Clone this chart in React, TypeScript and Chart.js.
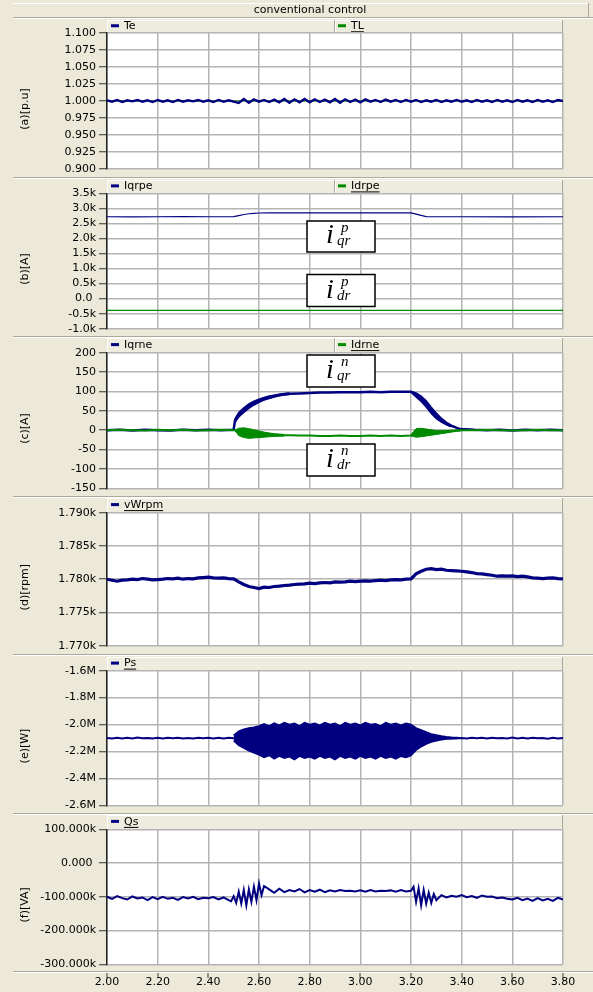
import React, { useEffect, useRef } from 'react';
import { Chart, registerables } from 'chart.js';
Chart.register(...registerables);

const FONT = "'DejaVu Sans', Verdana, sans-serif";
const BG = '#ECE9D8';
const NAVY = '#000080';
const GREEN = '#008A00';
const GRID = '#B4B4B4';
const EDGE = '#ACA899';

// ---------------- data ----------------
const t02 = [2.00,2.02,2.04,2.06,2.08,2.10,2.12,2.14,2.16,2.18,2.20,2.22,2.24,2.26,2.28,2.30,2.32,2.34,2.36,2.38,2.40,2.42,2.44,2.46,2.48,2.50,2.52,2.54,2.56,2.58,2.60,2.62,2.64,2.66,2.68,2.70,2.72,2.74,2.76,2.78,2.80,2.82,2.84,2.86,2.88,2.90,2.92,2.94,2.96,2.98,3.00,3.02,3.04,3.06,3.08,3.10,3.12,3.14,3.16,3.18,3.20,3.22,3.24,3.26,3.28,3.30,3.32,3.34,3.36,3.38,3.40,3.42,3.44,3.46,3.48,3.50,3.52,3.54,3.56,3.58,3.60,3.62,3.64,3.66,3.68,3.70,3.72,3.74,3.76,3.78,3.80];

const teValues = [1.001,0.999,1.0015,0.9985,1.001,0.9995,1.0015,0.999,1.001,0.9985,
1.0015,0.999,1.001,0.9985,1.0015,0.999,1.001,0.9995,1.0015,0.999,
1.001,0.9985,1.0015,0.999,1.001,0.999,0.997,1.003,0.9975,1.0025,
0.999,1.0015,0.9985,1.002,0.998,1.003,0.9975,1.0025,0.998,1.003,
0.998,1.0025,0.9985,1.002,0.998,1.003,0.9975,1.0025,0.9985,1.002,
0.998,1.0025,0.999,1.0015,0.9985,1.002,0.999,1.0015,0.9985,1.0015,
0.999,1.0015,0.9985,1.001,0.999,1.0015,0.9985,1.001,0.999,1.0015,
0.999,1.001,0.9985,1.0015,0.999,1.001,0.9985,1.0015,0.999,1.001,
0.9985,1.0015,0.999,1.001,0.9985,1.0015,0.999,1.001,0.9985,1.0015,1.000];

const tlTimes = [2.00, 3.80];
const tlValues = [1.000, 1.000];

const iqrpeTimes = [2.00,2.10,2.20,2.30,2.40,2.48,2.50,2.52,2.54,2.56,2.58,2.60,2.64,2.80,3.00,3.20,3.22,3.24,3.26,3.28,3.40,3.60,3.80];
const iqrpeValues = [2720,2718,2720,2722,2720,2721,2725,2760,2795,2820,2835,2845,2850,2852,2850,2850,2810,2765,2728,2720,2720,2719,2720];

const idrpeTimes = [2.00, 2.50, 3.00, 3.80];
const idrpeValues = [-390, -388, -390, -390];

const rotorTimes = [2.00,2.05,2.10,2.15,2.20,2.25,2.30,2.35,2.40,2.45,2.50,2.505,
2.51,2.52,2.53,2.54,2.55,2.56,2.57,2.58,2.59,2.60,2.61,2.62,2.63,2.64,2.65,2.66,2.67,2.68,2.69,2.70,
2.72,2.76,2.80,2.84,2.88,2.92,2.96,3.00,3.04,3.08,3.12,3.16,3.20,
3.21,3.22,3.23,3.24,3.25,3.26,3.27,3.28,3.29,3.30,3.31,3.32,3.33,3.34,3.35,3.36,3.37,3.38,3.39,3.40,
3.45,3.50,3.55,3.60,3.65,3.70,3.75,3.80];
const iqrneValues = [0,1,-1,1,0,-1,1,0,1,0,1,24,
32,40,46,52,57,62,66,70,73,76,78.5,81,83,85,86.5,88,89.5,91,92,93,
94,95,96,97,97,98,98,98,99,98,99,99,99,
96,91,86,81,76,68,60,51,43,37,31,26,21,17,13,11,9,6,4,3,
1,0,1,-1,1,0,1,0];
const idrneValues = [0,1,0,-1,1,0,1,-1,0,1,0,0,
-3,-5,-6,-7,-8,-8.5,-9,-9.5,-10,-10.5,-11,-11.5,-12,-12,-12.5,-12.5,-13,-13,-13,-13,
-13,-14,-14,-15,-15,-14,-15,-15,-14,-15,-14,-15,-14,
-7,-7,-6,-6,-6,-6,-6,-6,-6,-6,-5,-5,-4,-4,-3,-2,-2,-1,-1,0,
0,1,0,-1,0,1,0,0];

// thick-band envelopes (upper / lower edges)
const iqrneRiseTimes = [2.505,2.52,2.54,2.56,2.58,2.60,2.62,2.64,2.66,2.68,2.70,2.72];
const iqrneRiseUpper = [28,46,58,68,75,80,84.5,88,90.5,93,95,96];
const iqrneRiseLower = [20,34,46,56,65,72,77.5,82,85.5,89,91,92];
const iqrneFallTimes = [3.20,3.22,3.24,3.26,3.28,3.30,3.32,3.34,3.36];
const iqrneFallUpper = [100,96,88,76,59,44,31,20,13];
const iqrneFallLower = [98,86,74,60,43,30,21,14,9];
const idrneBurst1Times = [2.505,2.52,2.54,2.56,2.58,2.60,2.62,2.64,2.66,2.68,2.70];
const idrneBurst1Upper = [0,5,6,4,1,-2,-5,-7,-9,-10,-11];
const idrneBurst1Lower = [0,-14,-19,-21,-20,-19,-18,-17,-16,-15.5,-15];
const idrneBurst2Times = [3.20,3.22,3.24,3.26,3.28,3.30,3.32,3.34,3.36,3.38,3.40];
const idrneBurst2Upper = [-12,4,5,3,1,-1,-1,-1,0,0,0];
const idrneBurst2Lower = [-15,-18,-17,-15,-13,-11,-9,-7,-5,-3,-1];

const wrpmValues = [1780.0,1779.85,1779.7,1779.85,1779.9,1780.0,1779.95,1780.1,1780.0,1779.9,
1779.95,1780.0,1780.1,1780.05,1780.15,1780.0,1780.1,1780.05,1780.2,1780.25,
1780.3,1780.2,1780.15,1780.2,1780.1,1780.05,1779.6,1779.2,1778.9,1778.75,
1778.6,1778.8,1778.75,1778.9,1778.95,1779.05,1779.1,1779.2,1779.25,1779.3,
1779.4,1779.35,1779.45,1779.5,1779.45,1779.6,1779.55,1779.6,1779.7,1779.65,
1779.7,1779.75,1779.7,1779.8,1779.85,1779.8,1779.9,1779.95,1779.9,1780.0,
1780.05,1780.8,1781.2,1781.5,1781.6,1781.45,1781.5,1781.35,1781.3,1781.25,
1781.2,1781.1,1781.0,1780.85,1780.8,1780.7,1780.6,1780.45,1780.5,1780.45,
1780.5,1780.4,1780.45,1780.35,1780.2,1780.15,1780.1,1780.15,1780.2,1780.1,1780.05];

const psTimes = [2.00,2.02,2.04,2.06,2.08,2.10,2.12,2.14,2.16,2.18,2.20,2.22,2.24,2.26,2.28,2.30,2.32,2.34,2.36,2.38,2.40,2.42,2.44,2.46,2.48,2.50,
3.40,3.42,3.44,3.46,3.48,3.50,3.52,3.54,3.56,3.58,3.60,3.62,3.64,3.66,3.68,3.70,3.72,3.74,3.76,3.78,3.80];
const psValues = [-2.100,-2.104,-2.098,-2.103,-2.099,-2.104,-2.097,-2.102,-2.100,-2.104,-2.098,-2.103,-2.099,-2.102,-2.098,-2.104,-2.100,-2.103,-2.098,-2.102,-2.099,-2.104,-2.098,-2.103,-2.099,-2.101,
-2.100,-2.103,-2.098,-2.102,-2.099,-2.104,-2.098,-2.102,-2.100,-2.104,-2.097,-2.103,-2.099,-2.104,-2.098,-2.102,-2.100,-2.105,-2.098,-2.103,-2.100];

const psBandTimes = [2.50,2.52,2.54,2.56,2.58,2.60,2.62,2.64,2.66,2.68,2.70,2.72,2.74,2.76,2.78,2.80,2.82,2.84,2.86,2.88,2.90,2.92,2.94,2.96,2.98,3.00,3.02,3.04,3.06,3.08,3.10,3.12,3.14,3.16,3.18,3.20,3.22,3.24,3.26,3.28,3.30,3.32,3.34,3.36,3.38,3.40];
const psUpper = [-2.08,-2.05,-2.035,-2.025,-2.02,-2.01,
-1.995,-2.01,-1.99,-2.005,-1.985,-2.0,-1.99,-2.01,-1.985,-2.0,-1.99,-2.005,-1.985,-2.0,-1.99,-2.01,-1.985,-2.0,-1.99,-2.005,-1.985,-2.0,-1.995,-2.01,-1.985,-2.0,-1.99,-2.005,-1.99,
-2.0,-2.025,-2.04,-2.055,-2.07,-2.078,-2.085,-2.09,-2.094,-2.097,-2.1];
const psLower = [-2.12,-2.155,-2.175,-2.195,-2.21,-2.225,
-2.245,-2.23,-2.255,-2.235,-2.25,-2.24,-2.26,-2.235,-2.25,-2.24,-2.255,-2.235,-2.25,-2.24,-2.26,-2.235,-2.25,-2.24,-2.255,-2.235,-2.25,-2.24,-2.255,-2.235,-2.25,-2.24,-2.255,-2.235,-2.245,
-2.23,-2.19,-2.165,-2.145,-2.13,-2.12,-2.113,-2.108,-2.105,-2.103,-2.1];

const qsTimes = [2.00,2.02,2.04,2.06,2.08,2.10,2.12,2.14,2.16,2.18,2.20,2.22,2.24,2.26,2.28,2.30,2.32,2.34,2.36,2.38,2.40,2.42,2.44,2.46,2.48,
2.49,
2.50,2.51,2.52,2.53,2.54,2.55,2.56,2.57,2.58,2.59,2.60,2.61,2.62,
2.64,2.66,2.68,2.70,2.72,2.74,2.76,2.78,2.80,2.82,2.84,2.86,2.88,2.90,2.92,2.94,2.96,2.98,3.00,3.02,3.04,3.06,3.08,3.10,3.12,3.14,3.16,3.18,3.20,
3.21,3.22,3.23,3.24,3.25,3.26,3.27,3.28,3.29,3.30,
3.32,3.34,3.36,3.38,3.40,3.42,3.44,3.46,3.48,3.50,3.52,3.54,3.56,3.58,3.60,3.62,3.64,3.66,3.68,3.70,3.72,3.74,3.76,3.78,3.80];
const qsValues = [-100,-106,-98,-104,-108,-99,-105,-102,-110,-101,-107,-100,-106,-103,-109,-101,-105,-100,-107,-103,-104,-101,-108,-102,-110,
-113,
-98,-118,-85,-120,-80,-125,-78,-115,-70,-110,-60,-95,-68,
-78,-88,-76,-86,-80,-84,-77,-87,-80,-85,-79,-86,-81,-84,-80,-83,-82,-84,-81,-85,-80,-84,-82,-83,-81,-85,-80,-84,-82,
-70,-115,-75,-125,-80,-120,-88,-118,-92,-110,
-95,-102,-97,-100,-95,-101,-98,-103,-96,-100,-99,-104,-102,-106,-108,-103,-110,-105,-112,-104,-111,-106,-112,-103,-108];

const xTickValues = [2.0, 2.2, 2.4, 2.6, 2.8, 3.0, 3.2, 3.4, 3.6, 3.8];

// ---------------- helpers ----------------
const xy = (xs: number[], ys: number[]) => xs.map((x, i) => ({ x, y: ys[i] }));
const line = (label: string, xs: number[], ys: number[], color: string, width: number, extra: any = {}) => ({
  label, data: xy(xs, ys), borderColor: color, backgroundColor: color, borderWidth: width,
  pointRadius: 0, tension: 0, fill: false, ...extra,
});
const band = (label: string, xs: number[], up: number[], lo: number[], color: string, width: number) => [
  line(label + ' upper', xs, up, color, width),
  line(label + ' lower', xs, lo, color, width, { fill: '-1', backgroundColor: color }),
];

function groove(ctx: CanvasRenderingContext2D, x1: number, x2: number, y: number) {
  ctx.fillStyle = EDGE;
  ctx.fillRect(x1, Math.round(y), x2 - x1, 1);
  ctx.fillStyle = '#FFFFFF';
  ctx.fillRect(x1, Math.round(y) + 1, x2 - x1, 1);
}

const decorPlugin = {
  id: 'decor',
  beforeDraw(chart: any, _a: any, o: any) {
    const { ctx, chartArea: a } = chart;
    ctx.save();
    ctx.fillStyle = '#FFFFFF';
    ctx.fillRect(a.left, a.top, a.right - a.left, a.bottom - a.top);
    if (o.first) {
      ctx.fillStyle = '#FFFFFF';
      ctx.fillRect(13, 3, 575, 1);
      ctx.fillStyle = EDGE;
      ctx.fillRect(588, 3, 1, 14);
      ctx.fillStyle = '#000';
      ctx.font = `11px ${FONT}`;
      ctx.textAlign = 'center';
      ctx.textBaseline = 'middle';
      ctx.fillText(o.title, 310, 10.5);
    }
    groove(ctx, 13, 593, o.sepY);
    // legend strip
    const lt = o.legendTop, lb = a.top - 0.5;
    ctx.fillStyle = '#EEEBDF';
    ctx.fillRect(a.left, lt, a.right - a.left, lb - lt);
    ctx.fillStyle = '#FFFFFF';
    ctx.fillRect(a.left, lt, a.right - a.left, 1);
    ctx.fillRect(a.left, lt, 1, lb - lt);
    ctx.fillStyle = EDGE;
    ctx.fillRect(a.right - 1, lt, 1, lb - lt);
    if (o.divider) {
      ctx.fillStyle = EDGE;
      ctx.fillRect(o.divider, lt, 1, lb - lt);
      ctx.fillStyle = '#FFFFFF';
      ctx.fillRect(o.divider + 1, lt, 1, lb - lt);
    }
    const midY = (lt + lb) / 2;
    ctx.font = `11px ${FONT}`;
    ctx.textAlign = 'left';
    ctx.textBaseline = 'middle';
    o.legend.forEach((it: any, i: number) => {
      const sx = i === 0 ? a.left : o.divider;
      ctx.fillStyle = it.color;
      ctx.fillRect(sx + 4, midY - 2, 8, 3);
      ctx.fillStyle = '#000';
      ctx.fillText(it.label, sx + 17, midY);
      if (it.underline) {
        const w = ctx.measureText(it.label).width;
        ctx.fillRect(sx + 17, midY + 5, w, 1);
      }
    });
    // y title
    ctx.save();
    ctx.translate(25, (a.top + a.bottom) / 2 + 8);
    ctx.rotate(-Math.PI / 2);
    ctx.textAlign = 'center';
    ctx.textBaseline = 'middle';
    ctx.fillStyle = '#000';
    ctx.font = `11px ${FONT}`;
    ctx.fillText(o.yTitle, 0, 0);
    ctx.restore();
    if (o.last) {
      groove(ctx, 13, 593, 971);
      const xs = chart.scales.x;
      ctx.fillStyle = '#404040';
      o.xTicks.forEach((v: number) => {
        const px = Math.round(xs.getPixelForValue(v));
        ctx.fillRect(px - 0.5, 973, 1, 5);
      });
    }
    ctx.restore();
  },
  afterDatasetsDraw(chart: any, _a: any, o: any) {
    const { ctx } = chart;
    (o.annotations || []).forEach((b: any) => {
      ctx.save();
      ctx.fillStyle = '#FFFFFF';
      ctx.fillRect(b.x, b.y, b.w, b.h);
      ctx.strokeStyle = '#000';
      ctx.lineWidth = 1.5;
      ctx.strokeRect(b.x, b.y, b.w, b.h);
      ctx.fillStyle = '#000';
      ctx.textBaseline = 'alphabetic';
      ctx.textAlign = 'left';
      ctx.font = `italic 28px 'Liberation Serif', 'Times New Roman', serif`;
      ctx.fillText('i', b.x + 19, b.y + b.h - 9);
      ctx.font = `italic 15px 'Liberation Serif', 'Times New Roman', serif`;
      ctx.fillText(b.sup, b.x + 34, b.y + 11);
      ctx.fillText(b.sub, b.x + 30, b.y + b.h - 7);
      ctx.restore();
    });
  },
};

type Spec = {
  sepY: number; legendTop: number; plotTop: number; plotBottom: number;
  yTitle: string; min: number; max: number; step: number; fmt: (v: number) => string;
  legend: { label: string; color: string; underline: boolean }[];
  divider?: number; datasets: any[]; annotations?: any[]; first?: boolean; last?: boolean;
};

const specs: Spec[] = [
  {
    sepY: 17, legendTop: 20, plotTop: 33, plotBottom: 169, yTitle: '(a)[p.u]',
    min: 0.9, max: 1.1, step: 0.025, fmt: (v) => v.toFixed(3), first: true,
    legend: [{ label: 'Te', color: NAVY, underline: false }, { label: 'TL', color: GREEN, underline: true }],
    divider: 334,
    datasets: [line('Te', t02, teValues, NAVY, 2.4), line('TL', tlTimes, tlValues, GREEN, 1)],
  },
  {
    sepY: 176.5, legendTop: 180, plotTop: 193.3, plotBottom: 328.7, yTitle: '(b)[A]',
    min: -1000, max: 3500, step: 500, fmt: (v) => (v === 0 ? '0.0 ' : (v / 1000).toFixed(1) + 'k'),
    legend: [{ label: 'Iqrpe', color: NAVY, underline: false }, { label: 'Idrpe', color: GREEN, underline: true }],
    divider: 334,
    datasets: [line('Iqrpe', iqrpeTimes, iqrpeValues, NAVY, 1.2), line('Idrpe', idrpeTimes, idrpeValues, GREEN, 1.2)],
    annotations: [
      { x: 307, y: 221, w: 68, h: 31, sup: 'p', sub: 'qr' },
      { x: 307, y: 274.5, w: 68, h: 32, sup: 'p', sub: 'dr' },
    ],
  },
  {
    sepY: 336, legendTop: 338, plotTop: 352.7, plotBottom: 488.3, yTitle: '(c)[A]',
    min: -150, max: 200, step: 50, fmt: (v) => String(v),
    legend: [{ label: 'Iqrne', color: NAVY, underline: false }, { label: 'Idrne', color: GREEN, underline: true }],
    divider: 334,
    datasets: [
      line('Idrne', rotorTimes, idrneValues, GREEN, 2),
      ...band('Idrne burst 1', idrneBurst1Times, idrneBurst1Upper, idrneBurst1Lower, GREEN, 1),
      ...band('Idrne burst 2', idrneBurst2Times, idrneBurst2Upper, idrneBurst2Lower, GREEN, 1),
      line('Iqrne', rotorTimes, iqrneValues, NAVY, 2.5),
      ...band('Iqrne rise', iqrneRiseTimes, iqrneRiseUpper, iqrneRiseLower, NAVY, 1.5),
      ...band('Iqrne fall', iqrneFallTimes, iqrneFallUpper, iqrneFallLower, NAVY, 1.5),
    ],
    annotations: [
      { x: 307, y: 355, w: 68, h: 32, sup: 'n', sub: 'qr' },
      { x: 307, y: 444, w: 68, h: 32, sup: 'n', sub: 'dr' },
    ],
  },
  {
    sepY: 496, legendTop: 498, plotTop: 512.7, plotBottom: 645.7, yTitle: '(d)[rpm]',
    min: 1770, max: 1790, step: 5, fmt: (v) => (v / 1000).toFixed(3) + 'k',
    legend: [{ label: 'vWrpm', color: NAVY, underline: true }],
    datasets: [line('vWrpm', t02, wrpmValues, NAVY, 3.2)],
  },
  {
    sepY: 654, legendTop: 657, plotTop: 670.7, plotBottom: 805.3, yTitle: '(e)[W]',
    min: -2.6, max: -1.6, step: 0.2, fmt: (v) => v.toFixed(1) + 'M',
    legend: [{ label: 'Ps', color: NAVY, underline: true }],
    datasets: [
      line('Ps', psTimes, psValues, NAVY, 2),
      ...band('Ps band', psBandTimes, psUpper, psLower, NAVY, 1.5),
    ],
  },
  {
    sepY: 812.7, legendTop: 815, plotTop: 829.3, plotBottom: 964.3, yTitle: '(f)[VA]',
    min: -300, max: 100, step: 100, fmt: (v) => (v === 0 ? '0.000 ' : v.toFixed(3) + 'k'),
    legend: [{ label: 'Qs', color: NAVY, underline: true }], last: true,
    datasets: [line('Qs', qsTimes, qsValues, NAVY, 2)],
  },
];

function Panel({ spec }: { spec: Spec }) {
  const ref = useRef<HTMLCanvasElement>(null);
  useEffect(() => {
    const font = { family: FONT, size: 11 };
    const bottomBand = 992 - spec.plotBottom;
    const chart = new Chart(ref.current as HTMLCanvasElement, {
      type: 'line',
      data: { datasets: spec.datasets },
      options: {
        responsive: false,
        animation: false,
        devicePixelRatio: 1,
        layout: { padding: { left: 0, right: 30, top: spec.plotTop, bottom: spec.last ? 0 : bottomBand } },
        plugins: {
          legend: { display: false },
          tooltip: { enabled: false },
          decor: {
            title: 'conventional control', first: !!spec.first, last: !!spec.last,
            sepY: spec.sepY, legendTop: spec.legendTop, legend: spec.legend, divider: spec.divider,
            yTitle: spec.yTitle, annotations: spec.annotations, xTicks: xTickValues,
          },
        } as any,
        scales: {
          x: {
            type: 'linear', min: 2, max: 3.8,
            ticks: {
              stepSize: 0.2, display: !!spec.last, padding: 11, font, color: '#000',
              maxRotation: 0, autoSkip: false, callback: (v: any) => Number(v).toFixed(2),
            },
            grid: { color: GRID, lineWidth: 1.5, drawTicks: false },
            border: { display: false },
            afterFit: (s: any) => { s.height = spec.last ? bottomBand : 0; },
          },
          y: {
            type: 'linear', min: spec.min, max: spec.max,
            ticks: { stepSize: spec.step, font, color: '#000', padding: 3, autoSkip: false, callback: (v: any) => spec.fmt(Number(v)) },
            grid: { color: GRID, lineWidth: 1.5, tickColor: '#333', tickLength: 8, tickWidth: 1 },
            border: { display: true, color: '#222', width: 1.5 },
            afterFit: (s: any) => { s.width = 107; },
          },
        } as any,
      },
      plugins: [decorPlugin as any],
    });
    return () => chart.destroy();
  }, []);
  return <canvas ref={ref} width={593} height={992} style={{ position: 'absolute', left: 0, top: 0 }} />;
}

export default function App() {
  return (
    <div style={{ position: 'absolute', left: 0, top: 0, width: 593, height: 992, background: BG, overflow: 'hidden' }}>
      {specs.map((s, i) => <Panel key={i} spec={s} />)}
    </div>
  );
}
